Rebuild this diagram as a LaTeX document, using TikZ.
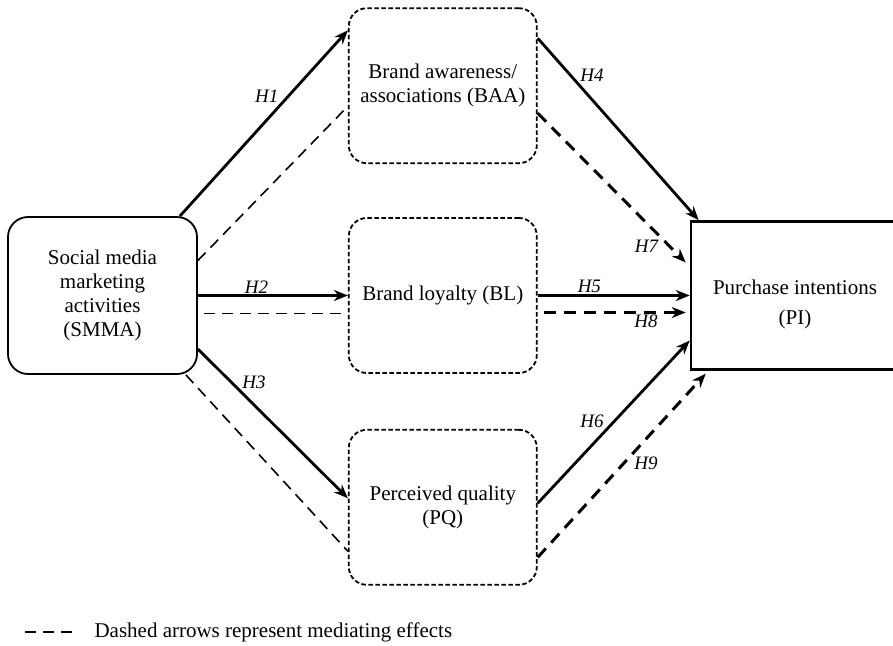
\documentclass[tikz,border=0pt]{standalone}
\usepackage{fontspec}
\setmainfont{Liberation Serif}
\usetikzlibrary{arrows, arrows.meta, positioning}

\begin{document}
\begin{tikzpicture}[x=1pt, y=1pt, font=\fontsize{21}{24}\selectfont]
		\tikzstyle{ConstructName} = [rectangle, rounded corners=20pt, minimum width=189pt, minimum height=157pt, text centered, align=center, draw=black, line width=1.8pt]
		\tikzstyle{MediatorName} = [rectangle, rounded corners=18pt, minimum width=188pt, minimum height=155pt, text centered, align=center, draw=black, line width=1.8pt, dash pattern=on 4.5pt off 2.5pt]
		\tikzstyle{OutcomeName} = [rectangle, minimum width=208pt, minimum height=148pt, text centered, draw=black, line width=2.5pt]
		\tikzstyle{arrow} = [line width=2.8pt,->,>={Stealth[length=14pt, width=11pt]}]
		\tikzstyle{mediation} = [line width=1.6pt, dash pattern=on 11pt off 7pt]
		\tikzstyle{MedArrow} = [line width=3pt, dash pattern=on 12pt off 8pt,->,>={Stealth[length=14pt, width=11pt]}]
		\tikzstyle{hypo} = [font=\fontsize{19}{22}\selectfont\itshape, inner sep=1pt]
		
		\useasboundingbox (0,0) rectangle (893,-645);
		
		\node (smma) [ConstructName] at (102.5,-295.5) {Social media\\marketing\\activities\\(SMMA)};
		\node (bl) [MediatorName, right = 150pt of smma] {Brand loyalty (BL)};
		\node (baa) [MediatorName, above = 53pt of bl] {Brand awareness/\\associations (BAA)};
		\node (pq) [MediatorName, below = 55pt of bl] {Perceived quality\\(PQ)};
		\node (pi) [OutcomeName, right = 152pt of bl] {\raisebox{-9pt}[\height][\depth]{\begin{tabular}{@{}c@{}}Purchase intentions\\[6pt](PI)\end{tabular}}};
		
		% direct effects
		\draw[arrow] ([xshift=-18pt]smma.north east) -- node[hypo, pos=0.6, above left] {H1} ([yshift=-23pt]baa.north west);
		\draw[arrow] (smma.east) -- node[hypo, pos=0.39, above] {H2} (bl.west);
		\draw[arrow] ([yshift=-53.5pt]smma.east) -- node[hypo, pos=0.28, above right] {H3} ([yshift=9pt]pq.west);
		\draw[arrow] ([yshift=47.5pt]baa.east) -- node[hypo, pos=0.25, above right] {H4} ([xshift=9pt]pi.north west);
		\draw[arrow] (bl.east) -- node[hypo, pos=0.34, above] {H5} (pi.west);
		\draw[arrow] ([yshift=4pt]pq.east) -- node[hypo, pos=0.45, above left] {H6} ([yshift=-45pt]pi.west);
		
		% mediating effects
		\draw[mediation] ([yshift=35pt]smma.east) -- ([yshift=-20.5pt]baa.west);
		\draw[mediation] ([xshift=6pt, yshift=-18pt]smma.east) -- ([xshift=-5pt, yshift=-18pt]bl.west);
		\draw[mediation] ([xshift=-12pt]smma.south east) -- ([yshift=-44pt]pq.west);
		\draw[MedArrow] ([yshift=-27.5pt]baa.east) -- node[hypo, pos=0.83, below left] {H7} ([xshift=-4pt, yshift=33pt]pi.west);
		\draw[MedArrow] ([xshift=6pt, yshift=-17pt]bl.east) -- node[hypo, pos=0.72, below] {H8} ([xshift=-4pt, yshift=-17pt]pi.west);
		\draw[MedArrow] ([yshift=-50pt]pq.east) -- node[hypo, pos=0.56, below right] {H9} ([xshift=16pt, yshift=-3pt]pi.south west);
		
		% legend
		\coordinate (legstart) at (25,-632);
		\node (legend) [right = 66pt of legstart] {Dashed arrows represent mediating effects};
		\draw[mediation] (legstart) -- ([xshift=-13pt]legend.west);
\end{tikzpicture}
\end{document}
